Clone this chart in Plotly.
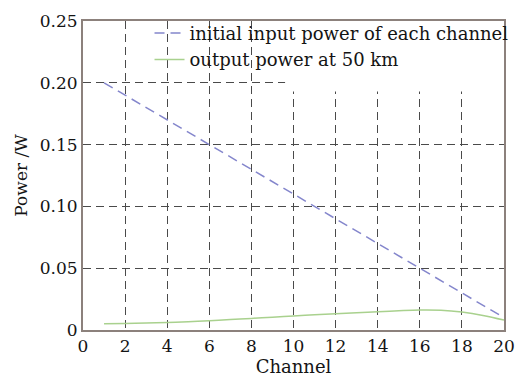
import plotly.graph_objects as go

channels = list(range(1, 21))
input_power = [0.200, 0.190, 0.180, 0.170, 0.160, 0.150, 0.140, 0.130, 0.120, 0.110,
               0.100, 0.090, 0.080, 0.070, 0.060, 0.050, 0.040, 0.030, 0.020, 0.010]
output_power = [0.0050, 0.0052, 0.0056, 0.0060, 0.0067, 0.0075, 0.0084, 0.0094, 0.0104, 0.0114,
                0.0123, 0.0131, 0.0140, 0.0148, 0.0156, 0.0162, 0.0160, 0.0145, 0.0118, 0.0080]

x_ticks = list(range(0, 21, 2))
y_ticks = [0, 0.05, 0.10, 0.15, 0.20, 0.25]
y_tick_text = ["0", "0.05", "0.10", "0.15", "0.20", "0.25"]

font_family = "DejaVu Serif"
text_color = "#141414"

fig = go.Figure()
fig.add_trace(go.Scatter(x=channels, y=input_power, mode="lines",
                         name="initial input power of each channel",
                         line=dict(color="#8486cc", width=1.5, dash="10px,6px")))
fig.add_trace(go.Scatter(x=channels, y=output_power, mode="lines",
                         name="output power at 50 km",
                         line=dict(color="#a9d18e", width=1.5, shape="spline")))

# white patch behind the legend area (hides grid as in the reference)
fig.add_shape(type="rect", xref="x", yref="y", x0=9.6, x1=20, y0=0.193, y1=0.25,
              fillcolor="white", line=dict(width=0), layer="between")

axis_common = dict(showline=True, linecolor="#8c817c", linewidth=2, mirror=True,
                   ticks="",
                   showgrid=True, gridcolor="#4a4a4a", griddash="8px,5px", gridwidth=1.2,
                   zeroline=False,
                   tickfont=dict(family=font_family, size=17, color=text_color),
                   title_font=dict(family=font_family, size=18, color=text_color))

fig.update_xaxes(range=[0, 20], tickvals=x_ticks, title_text="Channel",
                 title_standoff=0, **axis_common)
fig.update_yaxes(range=[0, 0.25], tickvals=y_ticks, ticktext=y_tick_text,
                 title_text="Power /W", title_standoff=8,
                 **{**axis_common, "title_font": dict(family=font_family, size=17, color=text_color)})

fig.update_layout(
    width=526, height=383,
    margin=dict(l=83, r=11, t=18, b=53),
    plot_bgcolor="white", paper_bgcolor="white",
    font=dict(family=font_family, size=17, color=text_color),
    legend=dict(x=0.158, y=1.02, xanchor="left", yanchor="top",
                bgcolor="rgba(0,0,0,0)", borderwidth=0,
                font=dict(family=font_family, size=18, color=text_color),
                itemwidth=30, tracegroupgap=0),
)

fig.write_html("out.html")
